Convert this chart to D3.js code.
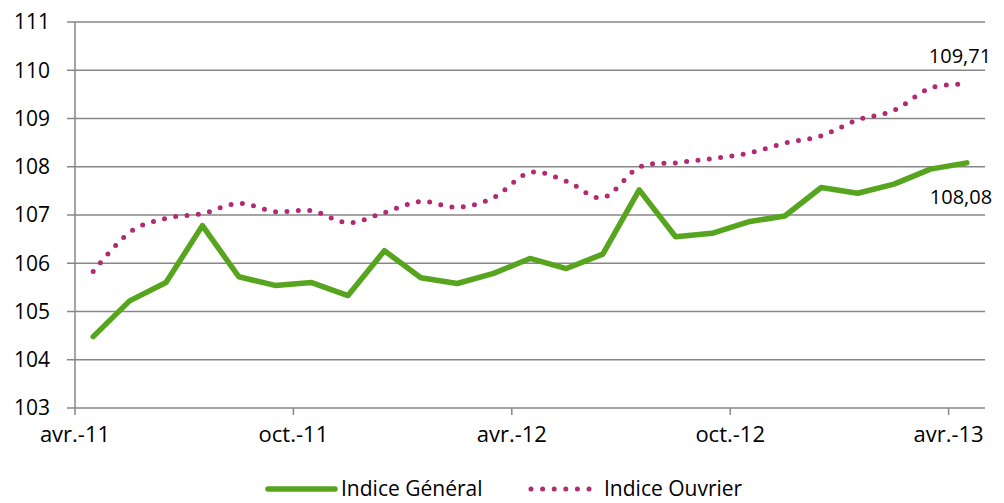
<!DOCTYPE html>
<html>
<head>
<meta charset="utf-8">
<script src="https://cdn.jsdelivr.net/npm/d3@7"></script>
<style>
  body { margin: 0; background: #fff; }
  svg { display: block; }
</style>
</head>
<body>
<svg id="chart" width="1004" height="503"></svg>
<script>
const months = ["avr.-11","mai-11","juin-11","juil.-11","août-11","sept.-11","oct.-11","nov.-11","déc.-11",
  "janv.-12","févr.-12","mars-12","avr.-12","mai-12","juin-12","juil.-12","août-12","sept.-12","oct.-12",
  "nov.-12","déc.-12","janv.-13","févr.-13","mars-13","avr.-13"];
const indiceGeneral = [104.48,105.22,105.60,106.78,105.72,105.54,105.60,105.33,106.26,105.70,105.58,105.79,
  106.10,105.89,106.19,107.52,106.55,106.62,106.86,106.98,107.57,107.45,107.64,107.95,108.08];
const indiceOuvrier = [105.83,106.64,106.93,107.03,107.24,107.07,107.09,106.84,107.05,107.28,107.16,107.36,
  107.88,107.70,107.36,107.99,108.08,108.17,108.28,108.49,108.64,108.97,109.17,109.63,109.71];
const yTicks = [103,104,105,106,107,108,109,110,111];
const xTickLabels = ["avr.-11","oct.-11","avr.-12","oct.-12","avr.-13"];

const svg = d3.select("#chart");
const font = "'Open Sans', sans-serif";
const gridColor = "#878787";
const green = "#57a51f";
const pink = "#b42a70";

const plotLeft = 75, plotRight = 985, plotTop = 22, plotBottom = 408;

const x = d3.scaleBand().domain(months).range([plotLeft, plotRight]);
const y = d3.scaleLinear().domain([103, 111]).range([plotBottom, plotTop]);
const cx = d => x(d) + x.bandwidth() / 2;

// Gridlines
svg.append("g")
  .selectAll("line")
  .data(yTicks)
  .join("line")
  .attr("x1", plotLeft - 8)
  .attr("x2", plotRight)
  .attr("y1", d => y(d))
  .attr("y2", d => y(d))
  .attr("stroke", gridColor)
  .attr("stroke-width", 1.5);

// Y axis line
svg.append("line")
  .attr("x1", plotLeft).attr("x2", plotLeft)
  .attr("y1", plotTop).attr("y2", plotBottom)
  .attr("stroke", gridColor)
  .attr("stroke-width", 1.5);

// Y labels
svg.append("g")
  .selectAll("text")
  .data(yTicks)
  .join("text")
  .attr("x", 50)
  .attr("y", d => y(d))
  .attr("dy", "0.35em")
  .attr("text-anchor", "end")
  .attr("font-family", font)
  .attr("font-size", "21px")
  .attr("fill", "#000")
  .text(d => d);

// X tick marks + labels
const xg = svg.append("g");
xg.selectAll("line")
  .data(xTickLabels)
  .join("line")
  .attr("x1", d => x(d)).attr("x2", d => x(d))
  .attr("y1", plotBottom).attr("y2", plotBottom + 7)
  .attr("stroke", gridColor)
  .attr("stroke-width", 1.5);
xg.selectAll("text")
  .data(xTickLabels)
  .join("text")
  .attr("x", d => x(d))
  .attr("y", 442)
  .attr("text-anchor", "middle")
  .attr("font-family", font)
  .attr("font-size", "22px")
  .attr("fill", "#000")
  .text(d => d);

// Indice Ouvrier (smoothed, dotted)
const ouvLine = d3.line()
  .x((d, i) => cx(months[i]))
  .y(d => y(d))
  .curve(d3.curveCatmullRom.alpha(0));
svg.append("path")
  .attr("d", ouvLine(indiceOuvrier))
  .attr("fill", "none")
  .attr("stroke", pink)
  .attr("stroke-width", 5)
  .attr("stroke-linecap", "round")
  .attr("stroke-dasharray", "0 11.4");

// Indice Général
const genLine = d3.line()
  .x((d, i) => cx(months[i]))
  .y(d => y(d));
svg.append("path")
  .attr("d", genLine(indiceGeneral))
  .attr("fill", "none")
  .attr("stroke", green)
  .attr("stroke-width", 5.5)
  .attr("stroke-linejoin", "round")
  .attr("stroke-linecap", "round");

// End labels
const last = months.length - 1;
svg.append("text")
  .attr("x", 960).attr("y", 63)
  .attr("text-anchor", "middle")
  .attr("font-family", font).attr("font-size", "20px")
  .text(indiceOuvrier[last].toFixed(2).replace(".", ","));
svg.append("text")
  .attr("x", 961).attr("y", 204)
  .attr("text-anchor", "middle")
  .attr("font-family", font).attr("font-size", "20px")
  .text(indiceGeneral[last].toFixed(2).replace(".", ","));

// Legend
const lg = svg.append("g");
lg.append("line")
  .attr("x1", 268).attr("x2", 335)
  .attr("y1", 489).attr("y2", 489)
  .attr("stroke", green).attr("stroke-width", 5.5)
  .attr("stroke-linecap", "round");
lg.append("text")
  .attr("x", 341).attr("y", 496)
  .attr("font-family", font).attr("font-size", "21px")
  .text("Indice Général");
lg.append("line")
  .attr("x1", 531).attr("x2", 591)
  .attr("y1", 489).attr("y2", 489)
  .attr("stroke", pink).attr("stroke-width", 5)
  .attr("stroke-linecap", "round")
  .attr("stroke-dasharray", "0 11.6");
lg.append("text")
  .attr("x", 604).attr("y", 496)
  .attr("font-family", font).attr("font-size", "21px")
  .text("Indice Ouvrier");
</script>
</body>
</html>
